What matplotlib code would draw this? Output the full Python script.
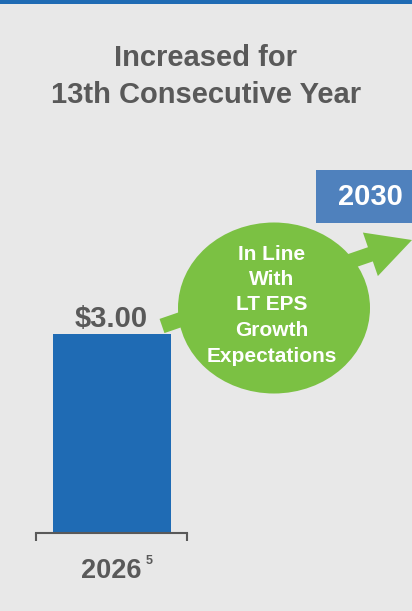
import matplotlib
matplotlib.use("Agg")
import matplotlib.pyplot as plt
from matplotlib.patches import Ellipse, Rectangle, FancyArrow

plt.rcParams['font.family'] = ['Liberation Sans', 'DejaVu Sans']

# Data
categories = ["2026"]
values = [3.00]
value_labels = ["$3.00"]
footnote = "5"
title_lines = ["Increased for", "13th Consecutive Year"]
bubble_lines = ["In Line", "With", "LT EPS", "Growth", "Expectations"]
target_label = "2030"

BG = "#E8E8E8"
BLUE = "#1F6BB4"
GRAY = "#595959"
GREEN = "#7BC143"
BOX = "#4F81BD"

W, H = 412, 611
fig = plt.figure(figsize=(W / 100, H / 100), dpi=100, facecolor=BG)

def fx(px):
    return px / W

def fy(py):
    return 1 - py / H

# Bar axes: x 36..187 px, y 170..533 px
ax = fig.add_axes([fx(36), fy(533), fx(187) - fx(36), (533 - 170) / H])
ax.set_facecolor("none")
ax.bar(range(len(categories)), values, width=118 / 151, color=BLUE, zorder=2)
ax.set_xlim(-0.5, 0.5)
ax.set_ylim(0, 3.0 * 363 / 199)
for s in ["top", "left", "right"]:
    ax.spines[s].set_visible(False)
ax.spines["bottom"].set_color(GRAY)
ax.spines["bottom"].set_linewidth(1.5)
ax.set_yticks([])
ax.set_xticks(range(len(categories)))
ax.set_xticklabels(categories, fontsize=19.5, fontweight="bold", color=GRAY)
ax.tick_params(axis="x", which="major", length=0, pad=18)
ax.set_xticks([-0.5, 0.5], minor=True)
ax.tick_params(axis="x", which="minor", length=6, width=1.5, color=GRAY, direction="out")
for i, v in enumerate(values):
    ax.annotate(value_labels[i], (i, v), xytext=(0, 1), textcoords="offset points",
                ha="center", va="bottom", fontsize=21, fontweight="bold", color=GRAY)

# Overlay in pixel coordinates
ov = fig.add_axes([0, 0, 1, 1])
ov.set_xlim(0, W)
ov.set_ylim(H, 0)
ov.axis("off")
ov.patch.set_alpha(0)

ov.add_patch(Rectangle((0, 0), W, 4, color=BLUE, lw=0))

for i, line in enumerate(title_lines):
    ov.text(206, 58 + i * 37, line, ha="center", va="center", fontsize=21,
            fontweight="bold", color=GRAY)

ov.add_patch(FancyArrow(162, 326, 412 - 162 - 0, 240 - 326, width=15, head_width=46,
                        head_length=44, length_includes_head=True, color=GREEN, lw=0))
ov.add_patch(Ellipse((274, 308), 192, 171, color=GREEN, lw=0))
ov.add_patch(Rectangle((316, 170), W - 316, 53, color=BOX, lw=0))
ov.text(370, 197, target_label, ha="center", va="center", fontsize=21,
        fontweight="bold", color="white")

for i, line in enumerate(bubble_lines):
    ov.text(272, 254 + i * 25.5, line, ha="center", va="center", fontsize=15,
            fontweight="bold", color="white")

ov.text(146, 561, footnote, ha="left", va="center", fontsize=9,
        fontweight="bold", color=GRAY)

fig.savefig("out.png", dpi=100, facecolor=BG)
